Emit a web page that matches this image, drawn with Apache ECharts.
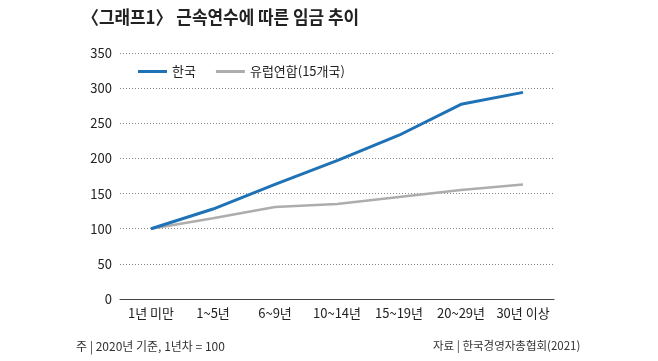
<!DOCTYPE html>
<html><head><meta charset="utf-8">
<script src="https://cdn.jsdelivr.net/npm/echarts@6/dist/echarts.min.js"></script>
<style>html,body{margin:0;padding:0;background:#fff}#c{width:658px;height:361px}</style>
</head><body><div id="c"></div>
<script>
const categories = ['1년 미만','1~5년','6~9년','10~14년','15~19년','20~29년','30년 이상'];
const korea = [100,128,163,197,233,277,294];
const eu = [100,115,131,135,145,155,163];
const yTicks = [0,50,100,150,200,250,300,350];
const seriesNames = ['한국','유럽연합(15개국)'];

const font = "'Noto Sans CJK KR', 'Noto Sans', sans-serif";
const chart = echarts.init(document.getElementById('c'));
chart.setOption({
  animation:false,
  backgroundColor:'#fff',
  legend:{left:133, top:60, itemWidth:29, itemHeight:3, itemGap:20,
    icon:'rect',
    textStyle:{fontFamily:font, fontSize:13, color:'#222'},
    data:seriesNames},
  grid:{left:120, right:104, top:53, bottom:62},
  xAxis:{type:'category', data:categories, boundaryGap:true,
    axisLine:{lineStyle:{color:'#444', width:1.2}},
    axisTick:{show:false},
    axisLabel:{interval:0, fontFamily:font, fontSize:13, color:'#222', margin:8}},
  yAxis:{type:'value', min:0, max:350, interval:50,
    axisLine:{show:false}, axisTick:{show:false},
    axisLabel:{fontFamily:font, fontSize:13, color:'#222', margin:8,
      formatter:v=>yTicks.includes(v)?String(v):''},
    splitLine:{lineStyle:{type:[1,2], color:'#888', width:1}}},
  series:[
    {name:seriesNames[0], type:'line', data:korea, symbol:'none',
     lineStyle:{color:'#1f72b5', width:3}, itemStyle:{color:'#1f72b5'}, z:3},
    {name:seriesNames[1], type:'line', data:eu, symbol:'none',
     lineStyle:{color:'#adadad', width:2.5}, itemStyle:{color:'#adadad'}, z:2}
  ],
  graphic:[
    {type:'text', x:82, y:8, scaleX:0.94, style:{text:'〈그래프1〉 근속연수에 따른 임금 추이', fontFamily:font, fontSize:18, fontWeight:'bold', fill:'#222'}},
    {type:'text', left:76, top:340, style:{text:'주 | 2020년 기준, 1년차 = 100', fontFamily:font, fontSize:12, fill:'#333'}},
    {type:'text', left:433, top:340, style:{text:'자료 | 한국경영자총협회(2021)', fontFamily:font, fontSize:11.5, fill:'#333'}}
  ]
});
</script></body></html>
